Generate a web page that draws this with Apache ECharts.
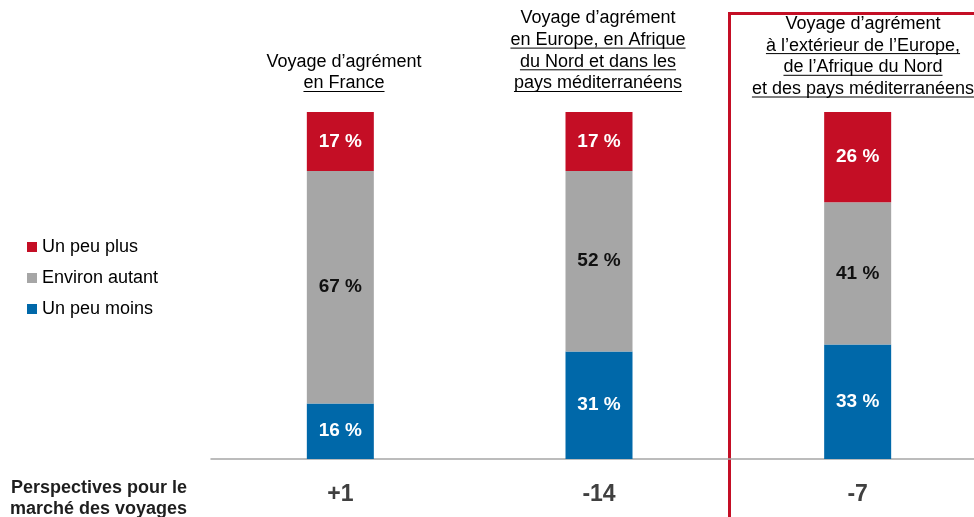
<!DOCTYPE html>
<html>
<head>
<meta charset="utf-8">
<script src="https://cdn.jsdelivr.net/npm/echarts@6/dist/echarts.min.js"></script>
<style>
  html, body { margin: 0; padding: 0; background: #fff; }
  #chart { width: 974px; height: 517px; }
</style>
</head>
<body>
<div id="chart"></div>
<script>
var FONT = '"Liberation Sans", Arial, sans-serif';

// données
var categories = ['France', 'Europe', 'Monde'];
var perspectives = ['+1', '-14', '-7'];
var unPeuMoins = [16, 31, 33];
var environAutant = [67, 52, 41];
var unPeuPlus = [17, 17, 26];

// titres de colonnes : [texte, souligné]
var titles = [
  [['Voyage d\u2019agrément', false], ['en France', true]],
  [['Voyage d\u2019agrément', false], ['en Europe, en Afrique', true], ['du Nord et dans les', true], ['pays méditerranéens', true]],
  [['Voyage d\u2019agrément', false], ['à l\u2019extérieur de l\u2019Europe,', true], ['de l\u2019Afrique du Nord', true], ['et des pays méditerranéens', true]]
];

var RED = '#C40E25';
var GREY = '#A6A6A6';
var BLUE = '#0068A9';

var chart = echarts.init(document.getElementById('chart'));

function barLabel(color) {
  return {
    show: true,
    position: 'inside',
    formatter: '{c} %',
    fontFamily: FONT,
    fontSize: 19,
    fontWeight: 'bold',
    color: color
  };
}

// mesure du texte pour les soulignements
var ctx = document.createElement('canvas').getContext('2d');
ctx.font = '18px ' + FONT;

var titleX = [344, 598, 863];
var titleBottom = [83.5, 83.5, 89];
var lineH = 21.7;
var graphics = [];
titles.forEach(function (lines, i) {
  var n = lines.length;
  lines.forEach(function (ln, j) {
    var cy = titleBottom[i] - (n - 1 - j) * lineH;
    graphics.push({
      type: 'text',
      x: titleX[i], y: cy,
      style: {
        text: ln[0], fill: '#000', font: '18px ' + FONT,
        align: 'center', verticalAlign: 'middle'
      }
    });
    if (ln[1]) {
      var w = ctx.measureText(ln[0]).width;
      graphics.push({
        type: 'line',
        shape: { x1: titleX[i] - w / 2, y1: cy + 8, x2: titleX[i] + w / 2, y2: cy + 8 },
        style: { stroke: '#000', lineWidth: 1 }
      });
    }
  });
});

graphics.push({
  type: 'text',
  x: 187, y: 498.5,
  style: {
    text: 'Perspectives pour le\nmarché des voyages',
    fill: '#1E1E1E', font: 'bold 18px ' + FONT,
    align: 'right', verticalAlign: 'middle', lineHeight: 21
  }
});

graphics.push({
  type: 'polyline',
  shape: { points: [[729.5, 517], [729.5, 13.5], [974, 13.5]] },
  style: { stroke: RED, lineWidth: 3, fill: null }
});

chart.setOption({
  animation: false,
  legend: {
    orient: 'vertical',
    left: 22,
    top: 232,
    data: ['Un peu plus', 'Environ autant', 'Un peu moins'],
    icon: 'rect',
    itemWidth: 10,
    itemHeight: 10,
    itemGap: 11,
    textStyle: { fontFamily: FONT, fontSize: 18, color: '#000', lineHeight: 20 }
  },
  grid: { left: 211, right: -13, top: 112, bottom: 58, outerBoundsMode: 'none', containLabel: false },
  xAxis: {
    type: 'category',
    data: categories,
    axisLine: { lineStyle: { color: '#A6A6A6', width: 1.5 } },
    axisTick: { show: false },
    axisLabel: {
      formatter: function (v, idx) { return perspectives[idx]; },
      fontFamily: FONT, fontSize: 23, fontWeight: 'bold', color: '#404040',
      margin: 24
    }
  },
  yAxis: { type: 'value', min: 0, max: 100, show: false, splitLine: { show: false } },
  series: [
    { name: 'Un peu moins', type: 'bar', stack: 'a', barWidth: 67, data: unPeuMoins,
      itemStyle: { color: BLUE }, label: barLabel('#fff') },
    { name: 'Environ autant', type: 'bar', stack: 'a', barWidth: 67, data: environAutant,
      itemStyle: { color: GREY }, label: barLabel('#111') },
    { name: 'Un peu plus', type: 'bar', stack: 'a', barWidth: 67, data: unPeuPlus,
      itemStyle: { color: RED }, label: barLabel('#fff') }
  ],
  graphic: graphics
});
</script>
</body>
</html>
